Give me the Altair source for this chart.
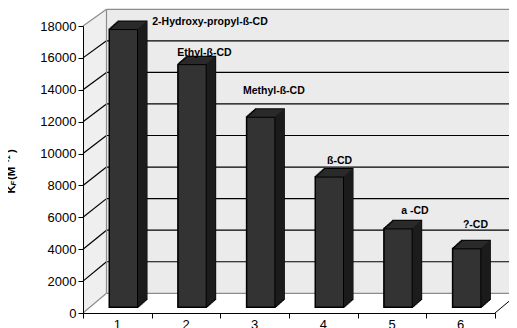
import altair as alt
import pandas as pd

# ---------------- data ----------------
categories = ["1", "2", "3", "4", "5", "6"]
kf_values = [17400, 15200, 11900, 8150, 4900, 3650]
bar_labels = ["2-Hydroxy-propyl-ß-CD", "Ethyl-ß-CD", "Methyl-ß-CD", "ß-CD", "a -CD", "?-CD"]
y_ticks = list(range(0, 18001, 2000))

# annotation placement of the data labels (pixels relative to bar front top centre)
label_dx_px = [86.5, 12.3, 13.0, 10.0, 16.8, 8.6]
label_rise_px = [8, 12, 26, 16, 18, 24]

# ---------------- geometry ----------------
W, H = 412, 287
Y_MAX = 18000
N = len(categories)
PXX = W / N          # px per x unit
UY = Y_MAX / H       # y units per px

DEPTH_X = 23.5                     # wall depth, px
BACK_BASE, BACK_TOP = 19.7, 303.7  # back wall bottom / top, px above front baseline


def back(v):
    return (BACK_BASE + v / Y_MAX * (BACK_TOP - BACK_BASE)) * UY


DXU = DEPTH_X / PXX
XR = N + 0.8
BAR_POS = 0.59
BAR_HALF = 14 / PXX
LIFT = 6
DEPTH_STEPS = 9
DY_STEP = 0.89

FONT = "Liberation Sans"
GRAY = "#8c8c8c"

xs = alt.Scale(domain=[0, N], nice=False, zero=False)
ys = alt.Scale(domain=[0, Y_MAX], nice=False, zero=False)
AX_X = alt.Axis(values=list(range(N + 1)), labels=False, tickSize=5,
                tickColor="black", domainColor="black", grid=False,
                title=None, zindex=1)
AX_Y = alt.Axis(values=y_ticks, format="d", tickSize=5, tickColor="black",
                domainColor="black", grid=False, title=None,
                labelFont=FONT, labelFontSize=13, labelColor="black",
                labelPadding=2, zindex=1)


def X(f):
    return alt.X(f, scale=xs, axis=AX_X)


def Y(f):
    return alt.Y(f, scale=ys, axis=AX_Y)


bars = pd.DataFrame({
    "cat": categories,
    "value": kf_values,
    "label": bar_labels,
})
bars["idx"] = range(N)
bars["x0"] = bars["idx"] + BAR_POS - BAR_HALF
bars["x1"] = bars["idx"] + BAR_POS + BAR_HALF
bars["lx"] = bars["idx"] + BAR_POS + pd.Series(label_dx_px) / PXX
bars["ly"] = bars["value"] + (LIFT + pd.Series(label_rise_px)) * UY
bars["cx"] = bars["idx"] + 0.5
bars["zero"] = 0

grid = pd.DataFrame({"v": y_ticks})
grid["vb"] = grid["v"].apply(back)
grid["x0"] = 0.0
grid["xb"] = DXU
grid["xr"] = XR
grid["col"] = ["black" if 0 < v < Y_MAX else GRAY for v in y_ticks]

left_wall = pd.DataFrame({
    "fx": [0.0, DXU],
    "top": [Y_MAX, back(Y_MAX)],
    "bot": [0.0, back(0)],
})
back_wall = pd.DataFrame({"xa": [DXU], "xb": [XR], "ya": [back(0)], "yb": [back(Y_MAX)],
                          "xf": [float(N)], "xfb": [N + DXU], "y0": [0.0]})

# ---------------- frame ----------------
lw = alt.Chart(left_wall).mark_area(color="#efefef", opacity=1).encode(
    x=X("fx:Q"), y=Y("top:Q"), y2="bot:Q",
)
bw = alt.Chart(back_wall).mark_rect(color="#ebebeb").encode(
    x=X("xa:Q"), x2="xb:Q", y=Y("ya:Q"), y2="yb:Q",
)
diag = alt.Chart(grid).mark_rule(strokeWidth=1.2).encode(
    x=X("x0:Q"), x2="xb:Q", y=Y("v:Q"), y2="vb:Q",
    color=alt.Color("col:N", scale=None),
)
horiz = alt.Chart(grid).mark_rule(strokeWidth=1.2).encode(
    x=X("xb:Q"), x2="xr:Q", y=Y("vb:Q"),
    color=alt.Color("col:N", scale=None),
)
wall_edge = alt.Chart(back_wall).mark_rule(color=GRAY, strokeWidth=1.2).encode(
    x=X("xa:Q"), y=Y("ya:Q"), y2="yb:Q",
)
floor_edge = alt.Chart(back_wall).mark_rule(color="black", strokeWidth=1).encode(
    x=X("xf:Q"), x2="xfb:Q", y=Y("y0:Q"), y2="ya:Q",
)

# ---------------- 3D bars ----------------
base = alt.Chart(bars)


def enc(xf="x0:Q", x2f="x1:Q"):
    return dict(x=X(xf), x2=x2f, y=Y("value:Q"), y2="zero:Q")


layers_bars = []
for k in range(DEPTH_STEPS + 1):
    off = -LIFT - DY_STEP * k
    layers_bars.append(base.mark_bar(color="black", stroke="black", strokeWidth=2,
                                     xOffset=k, x2Offset=k, yOffset=off, y2Offset=off).encode(**enc()))
for k in range(1, DEPTH_STEPS + 1):
    off = -LIFT - DY_STEP * k
    layers_bars.append(base.mark_bar(color="#2a2a2a", xOffset=k, x2Offset=k,
                                     yOffset=off, y2Offset=off).encode(**enc()))
for k in range(1, DEPTH_STEPS + 1):
    off = -LIFT - DY_STEP * k
    layers_bars.append(base.mark_bar(color="#1c1c1c", xOffset=k - 1, x2Offset=k + 0.4,
                                     yOffset=off, y2Offset=off).encode(**enc("x1:Q", "x1:Q")))
layers_bars.append(base.mark_bar(color="#333333", stroke="black", strokeWidth=1,
                                 yOffset=-LIFT, y2Offset=-LIFT).encode(**enc()))

labels = base.mark_text(font=FONT, fontSize=10.5, fontWeight="bold", color="black",
                        baseline="middle", align="center").encode(
    x=X("lx:Q"), y=Y("ly:Q"), text="label:N",
)
cat_labels = base.mark_text(font=FONT, fontSize=13, color="black",
                            baseline="top", align="center", dy=6).encode(
    x=X("cx:Q"), y=Y("zero:Q"), text="cat:N",
)

# ---------------- y title K_F(M^-1) ----------------
one = pd.DataFrame({"a": [0]})


def tpiece(txt, xp, yp, size, style="normal"):
    return alt.Chart(one).mark_text(text=txt, font=FONT, fontSize=size, fontWeight="bold",
                                    fontStyle=style, angle=270, align="left",
                                    baseline="middle", color="black").encode(
        x=alt.value(xp - 83), y=alt.value(yp - 26))


title_layers = [
    tpiece("K", 12, 193.5, 11.5),
    tpiece("F", 14, 185.5, 7.5, "italic"),
    tpiece("(M", 12, 180, 11.5),
    tpiece("-1", 8, 162, 7.5),
    tpiece(")", 12, 153, 11.5),
]

chart = alt.layer(
    lw, bw, diag, horiz, wall_edge, floor_edge, *layers_bars, labels, cat_labels, *title_layers
).properties(
    width=W, height=H,
    padding={"left": 75, "top": 18, "right": 14, "bottom": 15},
    autosize=alt.AutoSizeParams(type="none"),
    background="white",
).configure_view(stroke=None)

chart.save("out.html", embed_options={"renderer": "svg", "actions": False})
